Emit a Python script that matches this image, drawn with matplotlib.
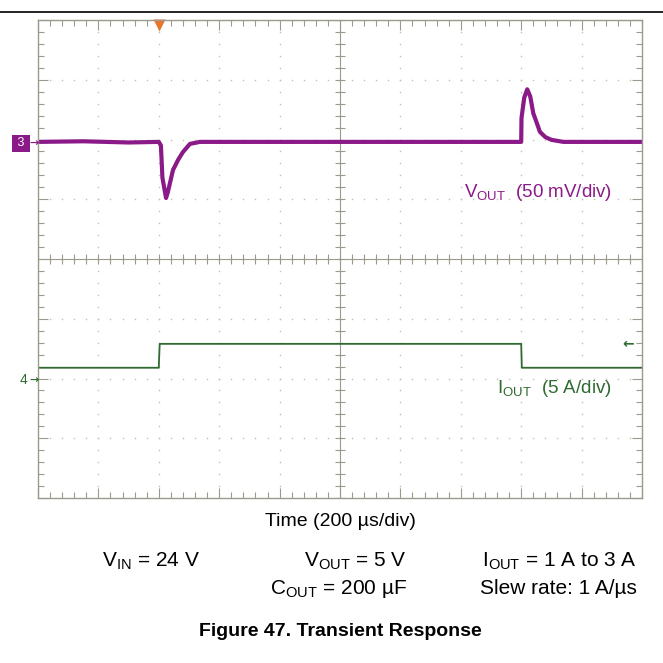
import numpy as np
import matplotlib.pyplot as plt
from matplotlib.lines import Line2D
from matplotlib.ticker import MultipleLocator

plt.rcParams['font.family'] = ['Liberation Sans', 'DejaVu Sans']
plt.rcParams['mathtext.fontset'] = 'custom'
plt.rcParams['mathtext.rm'] = 'Liberation Sans'

# scope settings
us_per_div = 200
mv_per_div = 50
a_per_div = 5
vout_ref_div = 5.96   # channel 3 marker position (div from bottom)
iout_ref_div = 1.98   # channel 4 marker position

# V_OUT deviation (mV) vs time (us)
t_vout = [0, 150, 300, 400, 407, 412, 424, 430, 447, 464, 480, 503, 536, 1000,
          1600, 1601, 1610, 1620, 1630, 1640, 1650, 1662, 1680, 1700, 1740, 2000]
v_vout = [0, 0.5, -0.5, 0, -3, -30, -47, -42, -23.5, -15, -8.5, -1.7, 0, 0,
          0, 20, 37, 44, 38, 24, 17, 8.4, 4, 1.7, 0, 0]

# I_OUT (A) vs time (us)
t_iout = [0, 400, 401, 403, 1600, 1602, 2000]
i_iout = [1, 1, 1.8, 3, 3, 1, 1]

purple = '#8b1a89'
green = '#2f6a30'
frame_c = '#9c9a8c'
grid_c = '#c0c0b8'

fig = plt.figure(figsize=(6.63, 6.63), dpi=100)
ax = fig.add_axes([38 / 663, 1 - 498 / 663, 604 / 663, 478 / 663])
ax.set_xlim(0, 10)
ax.set_ylim(0, 8)

# dotted graticule
for x in range(1, 10):
    ax.plot([x] * 41, np.linspace(0, 8, 41), ls='none', marker='s', ms=1.0, color=grid_c, mec='none')
for y in range(1, 8):
    ax.plot(np.linspace(0, 10, 51), [y] * 51, ls='none', marker='s', ms=1.0, color=grid_c, mec='none')

# center crosshair with ticks
ax.axvline(5, color=frame_c, lw=0.8)
ax.axhline(4, color=frame_c, lw=0.8)
ax.plot(np.arange(0, 10.01, 0.2), [4] * 51, ls='none', marker='|', ms=7, mew=0.8, color=frame_c)
ax.plot([5] * 41, np.arange(0, 8.01, 0.2), ls='none', marker='_', ms=7, mew=0.8, color=frame_c)

# traces
tv = np.array(t_vout) / us_per_div
vv = vout_ref_div + np.array(v_vout) / mv_per_div
ax.plot(tv, vv, color=purple, lw=3.0, solid_joinstyle='round')
ti = np.array(t_iout) / us_per_div
ii = iout_ref_div + np.array(i_iout) / a_per_div
ax.plot(ti, ii, color=green, lw=1.3)

# frame ticks
ax.xaxis.set_major_locator(MultipleLocator(1))
ax.xaxis.set_minor_locator(MultipleLocator(0.2))
ax.yaxis.set_major_locator(MultipleLocator(1))
ax.yaxis.set_minor_locator(MultipleLocator(0.2))
ax.tick_params(which='both', direction='in', top=True, right=True, color=frame_c,
               labelbottom=False, labelleft=False)
ax.tick_params(which='major', length=7, width=0.8)
ax.tick_params(which='minor', length=4, width=0.8)
for s in ax.spines.values():
    s.set_color(frame_c)
    s.set_linewidth(1.0)

# channel markers
fig.text(21 / 663, 1 - 143 / 663, ' 3 ', color='white', fontsize=9, ha='center', va='center',
         bbox=dict(boxstyle='square,pad=0.2', fc=purple, ec='none'))
fig.text(34 / 663, 1 - 143 / 663, '\u2192', color=purple, fontsize=8, family='DejaVu Sans',
         fontweight='bold', ha='center', va='center')
fig.text(23 / 663, 1 - 380 / 663, '4', color=green, fontsize=10, ha='center', va='center')
fig.text(34 / 663, 1 - 380 / 663, '\u2192', color=green, fontsize=8, family='DejaVu Sans',
         fontweight='bold', ha='center', va='center')
fig.text(628 / 663, 1 - 344 / 663, '\u2190', color=green, fontsize=10, family='DejaVu Sans',
         fontweight='bold', ha='center', va='center')
ax.plot([400 / us_per_div], [7.92], marker='v', ms=9, color='#e8752a', clip_on=False, mec='none')

# channel labels
ax.text(0.95, 0.64, r'V$_{\mathregular{OUT}}$  (50 mV/div)', transform=ax.transAxes,
        color=purple, fontsize=13.5, ha='right', va='center')
ax.text(0.95, 0.23, r'I$_{\mathregular{OUT}}$  (5 A/div)', transform=ax.transAxes,
        color=green, fontsize=13.5, ha='right', va='center')

# captions
fig.text(340 / 663, 1 - 522 / 663, 'Time (200 \u00b5s/div)', fontsize=14, ha='center', va='center')
fig.text(102 / 663, 1 - 561 / 663, r'V$_{\mathregular{IN}}$ = 24 V', fontsize=15, ha='left', va='center')
fig.text(407 / 663, 1 - 561 / 663, r'V$_{\mathregular{OUT}}$ = 5 V', fontsize=15, ha='right', va='center')
fig.text(407 / 663, 1 - 589 / 663, 'C$_{\\mathregular{OUT}}$ = 200 \u00b5F', fontsize=15, ha='right', va='center')
fig.text(637 / 663, 1 - 561 / 663, r'I$_{\mathregular{OUT}}$ = 1 A to 3 A', fontsize=15, ha='right', va='center')
fig.text(637 / 663, 1 - 589 / 663, 'Slew rate: 1 A/\u00b5s', fontsize=15, ha='right', va='center')
fig.text(340 / 663, 1 - 631 / 663, 'Figure 47. Transient Response', fontsize=14,
         fontweight='bold', ha='center', va='center')

fig.add_artist(Line2D([0, 1], [1 - 12 / 663] * 2, color='black', lw=1.2))

fig.savefig('out.png', dpi=100)
